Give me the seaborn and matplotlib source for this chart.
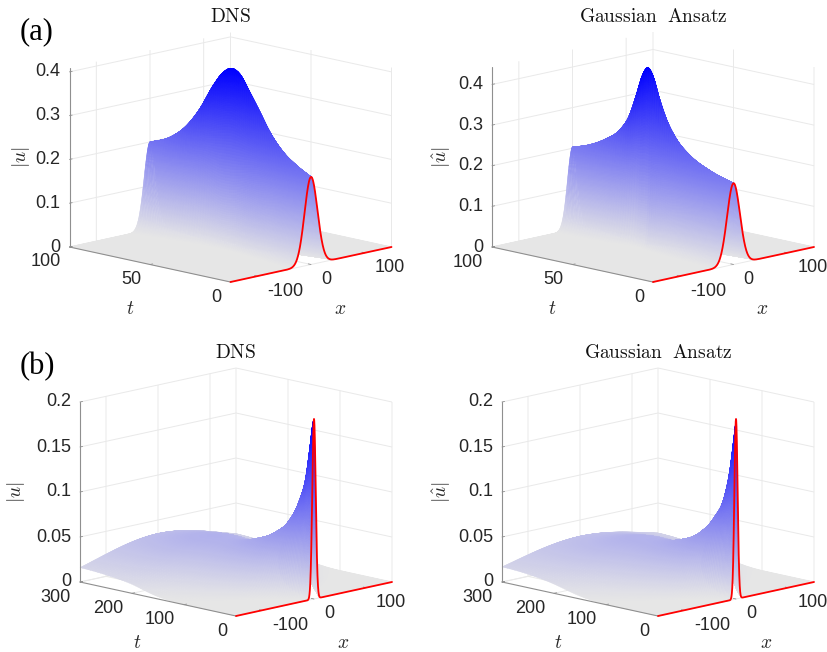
import numpy as np
import matplotlib
matplotlib.use("Agg")
import matplotlib.pyplot as plt
import seaborn as sns
from matplotlib.ticker import NullFormatter
from mpl_toolkits.mplot3d import proj3d

# ---- values ----
t_a_dns = [0, 8.9, 17.2, 25.5, 31.7, 37.9, 44.1, 49.3, 54.5, 60.7, 69, 77.2, 87.6, 100]
amp_a_dns = [.2, .219, .243, .282, .323, .363, .4, .409, .396, .361, .301, .256, .221, .2]
wid_a_dns = [12, 10.5, 9, 7.8, 6.8, 6, 5.5, 5.4, 5.5, 6, 7.3, 8.6, 10, 11]

t_a_ans = [0, 14.9, 27.3, 35.6, 41.8, 46, 50.1, 53.2, 56.3, 60.4, 64.6, 70.8, 79, 89.4, 100]
amp_a_ans = [.2, .219, .246, .279, .323, .369, .423, .44, .421, .365, .312, .27, .242, .218, .203]
wid_a_ans = [12, 10.3, 8.9, 7.9, 6.8, 5.9, 5.1, 5, 5.1, 5.9, 6.8, 7.8, 8.6, 9.2, 9.5]

t_b_dns = [0, 1.3, 7.7, 14, 27, 46, 72, 110, 149, 200, 250, 300]
amp_b_dns = [.2, .198, .168, .138, .107, .082, .0657, .0535, .0467, .046, .041, .035]
wid_b_dns = [3.3, 3.4, 5, 7, 11, 19, 32, 47, 62, 86, 103, 120]

t_b_ans = [0, 3.8, 11.5, 21, 40, 66, 104, 143, 200, 250, 300]
amp_b_ans = [.2, .18, .142, .113, .0865, .0665, .0532, .0468, .044, .038, .032]
wid_b_ans = [3.1, 3.9, 6, 9, 17, 30, 46, 62, 88, 110, 132]

x_ticks = [-100, 0, 100]
x_tick_labels = ["-100", "0", "100"]
t_ticks_a = [0, 50, 100]
t_tick_labels_a = ["0", "50", "100"]
t_ticks_b = [0, 100, 200, 300]
t_tick_labels_b = ["0", "100", "200", "300"]
z_ticks_a = [0, .1, .2, .3, .4]
z_tick_labels_a = ["0", "0.1", "0.2", "0.3", "0.4"]
z_ticks_b = [0, .05, .1, .15, .2]
z_tick_labels_b = ["0", "0.05", "0.1", "0.15", "0.2"]

# ---- style ----
sns.set_style("white")
plt.rcParams["font.family"] = ["Liberation Sans", "DejaVu Sans"]
plt.rcParams["mathtext.fontset"] = "cm"
plt.rcParams["grid.color"] = "#e9e9e9"
plt.rcParams["grid.linewidth"] = 0.7
surface_cmap = sns.blend_palette(["#e6e6e6", "#0000ff"], as_cmap=True)
AXIS = "#8f8f8f"
INK = "#262626"
W = 400.0
FW, FH = 828, 652
fig = plt.figure(figsize=(FW / 100, FH / 100), dpi=100, facecolor="white")


def smooth(tn, t, y):
    t, y = np.asarray(t, float), np.asarray(y, float)
    m = np.gradient(y, t)
    i = np.clip(np.searchsorted(t, tn) - 1, 0, len(t) - 2)
    h = t[i + 1] - t[i]
    s = (tn - t[i]) / h
    return ((2*s**3 - 3*s**2 + 1) * y[i] + (s**3 - 2*s**2 + s) * h * m[i]
            + (-2*s**3 + 3*s**2) * y[i + 1] + (s**3 - s**2) * h * m[i + 1])


def panel(front, half_w, dy, height, t_k, amp, wid, tmax, zmax,
          t_ticks, t_labels, z_ticks, z_labels, title, title_xy,
          zlabel, zlabel_xy, tlabel_xy, xlabel_xy):
    fx, fy = front
    el = np.degrees(np.arcsin(dy / half_w))
    side = half_w / np.cos(np.pi / 4)
    c = (height / np.cos(np.radians(el))) / side
    norm = np.linalg.norm([1, 1, c])
    zoom = (side * 1.85 / W) / (1.8294640721620434 * 25 / 24 / norm)
    frac = 0.095 / 0.185
    left = fx - frac * W
    bottom = (FH - (fy - dy - height / 2)) - frac * W
    ax = fig.add_axes([left / FW, bottom / FH, W / FW, W / FH],
                      projection="3d", proj_type="ortho",
                      elev=el, azim=-135, computed_zorder=False)
    ax.set_box_aspect((1, 1, c), zoom=zoom)
    ax.patch.set_visible(False)
    ax.set_xlim(-150, 150, view_margin=0)
    ax.set_ylim(0, tmax, view_margin=0)
    ax.set_zlim(0, zmax, view_margin=0)
    ax.set_xticks(x_ticks)
    ax.set_yticks(t_ticks)
    ax.set_zticks(z_ticks)
    for a in (ax.xaxis, ax.yaxis, ax.zaxis):
        a.pane.set_visible(False)
        a.line.set_visible(False)
        a.set_major_formatter(NullFormatter())
        a._axinfo["tick"]["inward_factor"] = 0
        a._axinfo["tick"]["outward_factor"] = 0

    x = 150 * np.sinh(np.linspace(-3.5, 3.5, 501)) / np.sinh(3.5)
    t = tmax * np.linspace(0, 1, 91) ** 1.5
    A = smooth(t, t_k, amp)
    S = smooth(t, t_k, wid)
    X, T = np.meshgrid(x, t)
    U = A[:, None] * np.exp(-X**2 / (2 * S[:, None]**2))
    colors = surface_cmap(U / max(amp))
    ax.plot_surface(X, T, U, facecolors=colors, rstride=1, cstride=1,
                    shade=False, linewidth=0.3, antialiased=True, zorder=2)

    ax.plot(x, np.zeros_like(x), U[0], color="red", lw=1.3, zorder=5)
    ax.plot([-150, -150], [0, tmax], [0, 0], color=AXIS, lw=0.8, zorder=4)
    ax.plot([-150, -150], [tmax, tmax], [0, zmax], color=AXIS, lw=0.8, zorder=4)
    for tv in t_ticks:
        ax.plot([-150, -145], [tv, tv], [0, 0], color=AXIS, lw=0.6, zorder=4)
    for zv in z_ticks:
        ax.plot([-150, -145], [tmax, tmax], [zv, zv], color=AXIS, lw=0.6, zorder=4)
    for xv in x_ticks:
        ax.plot([xv, xv], [0, tmax * .017], [0, 0], color=AXIS, lw=0.6, zorder=4)

    M = ax.get_proj()

    def label(xv, tv, zv, s, off, ha):
        px, py, _ = proj3d.proj_transform(xv, tv, zv, M)
        ax.annotate(s, (px, py), xytext=off, textcoords="offset pixels",
                    ha=ha, va="center", fontsize=13, color=INK,
                    annotation_clip=False)

    for xv, s in zip(x_ticks, x_tick_labels):
        label(xv, 0, 0, s, (10, -15), "left")
    for tv, s in zip(t_ticks, t_labels):
        label(-150, tv, 0, s, (-9, -15), "right")
    for zv, s in zip(z_ticks, z_labels):
        label(-150, tmax, zv, s, (-9, 0), "right")

    fig.text(title_xy[0] / FW, 1 - title_xy[1] / FH, title, ha="center",
             va="center", fontsize=14, color="#111111")
    fig.text(zlabel_xy[0] / FW, 1 - zlabel_xy[1] / FH, zlabel, rotation=90,
             ha="center", va="center", fontsize=14, color=INK)
    fig.text(tlabel_xy[0] / FW, 1 - tlabel_xy[1] / FH, r"$t$", ha="center",
             va="center", fontsize=14, color=INK)
    fig.text(xlabel_xy[0] / FW, 1 - xlabel_xy[1] / FH, r"$x$", ha="center",
             va="center", fontsize=14, color=INK)


T_DNS = r"$\mathrm{DNS}$"
T_ANS = r"$\mathrm{Gaussian\ \ Ansatz}$"
panel((230.5, 282), 161, 35, 179.5, t_a_dns, amp_a_dns, wid_a_dns, 100, .41,
      t_ticks_a, t_tick_labels_a, z_ticks_a, z_tick_labels_a, T_DNS, (231, 17),
      r"$|u|$", (21, 157), (130, 310), (340, 310))
panel((653, 282), 161, 35, 180, t_a_ans, amp_a_ans, wid_a_ans, 100, .443,
      t_ticks_a, t_tick_labels_a, z_ticks_a, z_tick_labels_a, T_ANS, (653, 17),
      r"$|\hat{u}|$", (442, 157), (552, 310), (762, 310))
panel((236, 616), 156, 34, 180, t_b_dns, amp_b_dns, wid_b_dns, 300, .2,
      t_ticks_b, t_tick_labels_b, z_ticks_b, z_tick_labels_b, T_DNS, (236, 353),
      r"$|u|$", (16, 492), (137, 643), (343, 643))
panel((658, 616), 156, 34, 180, t_b_ans, amp_b_ans, wid_b_ans, 300, .2,
      t_ticks_b, t_tick_labels_b, z_ticks_b, z_tick_labels_b, T_ANS, (658, 353),
      r"$|\hat{u}|$", (442, 492), (558, 643), (766, 643))

fig.text(20 / FW, 1 - 32 / FH, "(a)", family="Liberation Serif", fontsize=22,
         ha="left", va="center", color="black")
fig.text(20 / FW, 1 - 367 / FH, "(b)", family="Liberation Serif", fontsize=22,
         ha="left", va="center", color="black")

fig.savefig("out.png", dpi=100)
